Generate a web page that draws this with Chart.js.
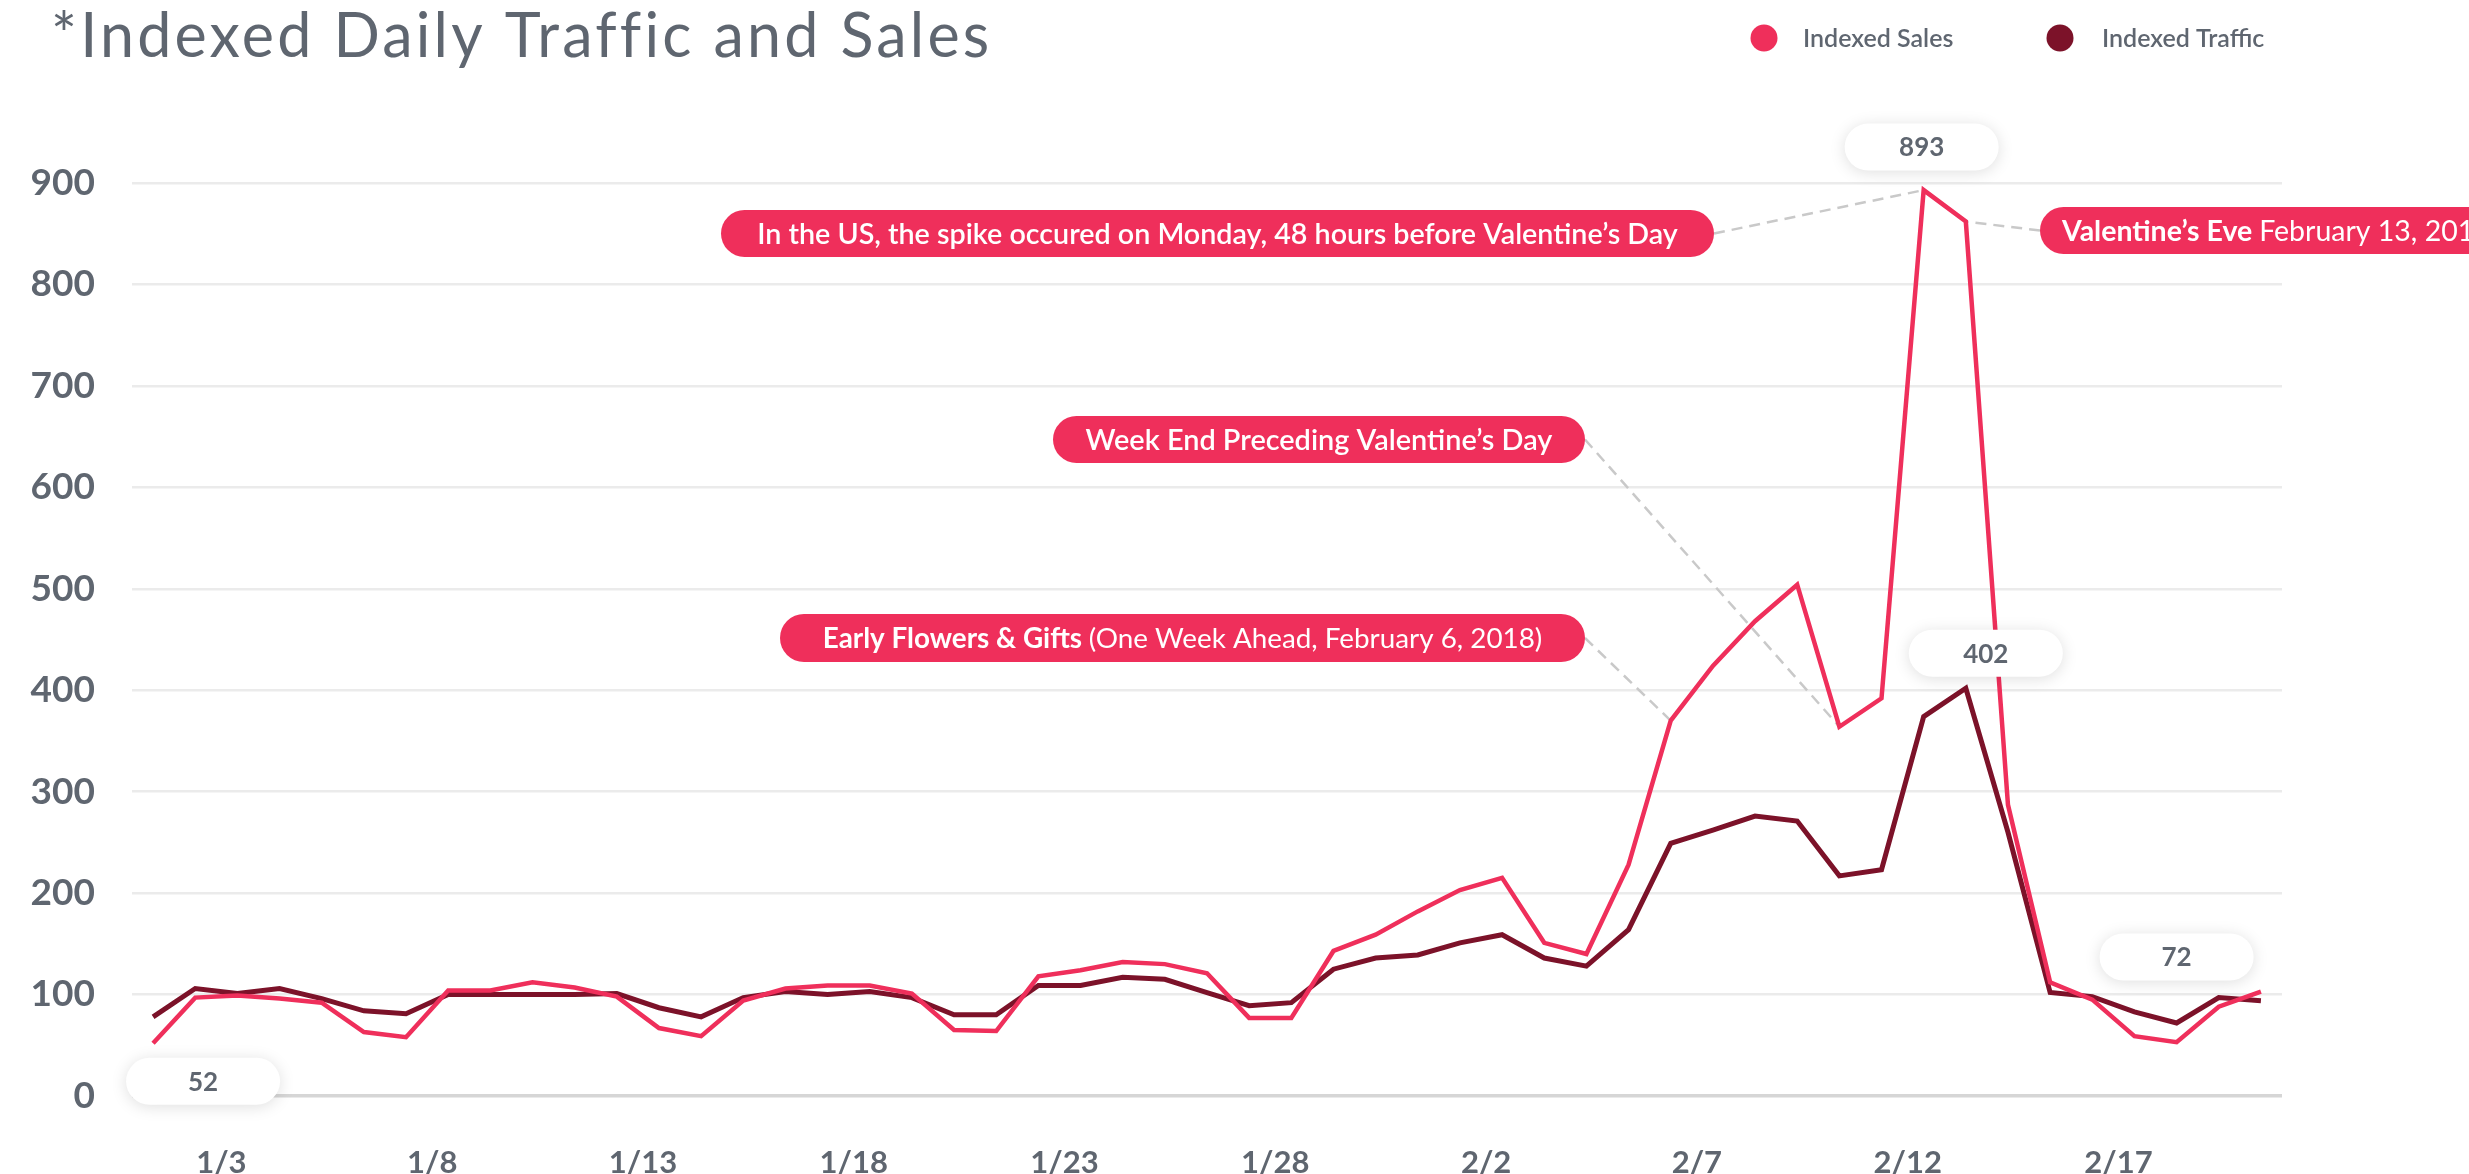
<!DOCTYPE html>
<html>
<head>
<meta charset="utf-8">
<script src="https://cdn.jsdelivr.net/npm/chart.js@4.4.1/dist/chart.umd.min.js"></script>
<style>
  html, body { margin: 0; padding: 0; background: #fff; }
  #wrap { width: 2469px; height: 1174px; }
</style>
</head>
<body>
<div id="wrap"><canvas id="trafficChart" width="2469" height="1174"></canvas></div>
<script>
// daily dates, 1 Jan - 20 Feb 2018
const dates = [
  '1/1','1/2','1/3','1/4','1/5','1/6','1/7','1/8','1/9','1/10',
  '1/11','1/12','1/13','1/14','1/15','1/16','1/17','1/18','1/19','1/20',
  '1/21','1/22','1/23','1/24','1/25','1/26','1/27','1/28','1/29','1/30',
  '1/31','2/1','2/2','2/3','2/4','2/5','2/6','2/7','2/8','2/9',
  '2/10','2/11','2/12','2/13','2/14','2/15','2/16','2/17','2/18','2/19','2/20'
];
const tickLabels = ['1/3','1/8','1/13','1/18','1/23','1/28','2/2','2/7','2/12','2/17'];

const indexedSales = [
  52, 97, 99, 96, 92, 63, 58, 104, 104, 112,
  107, 98, 67, 59, 94, 106, 109, 109, 101, 65,
  64, 118, 124, 132, 130, 121, 77, 77, 143, 159,
  182, 203, 215, 151, 140, 228, 370, 424, 468, 504,
  364, 392, 893, 862, 287, 112, 95, 59, 53, 88, 103
];
const indexedTraffic = [
  78, 106, 101, 106, 96, 84, 81, 100, 100, 100,
  100, 101, 87, 78, 97, 103, 100, 103, 97, 80,
  80, 109, 109, 117, 115, 102, 89, 92, 125, 136,
  139, 151, 159, 136, 128, 164, 249, 262, 276, 271,
  217, 223, 374, 402, 260, 102, 98, 83, 72, 97, 94
];

const TEXT_GREY = '#5f6670';
const SALES_RED = '#ef2f5b';
const TRAFFIC_RED = '#7c1229';
const FONT = 'Lato, "Noto Sans", sans-serif';

// callouts: pill box + which point the dashed line goes to
const callouts = [
  { box: [721, 210, 993, 47], side: 'right', ds: 0, i: 42, textW: 921,
    parts: [['In the US, the spike occured on Monday, 48 hours before Valentine\u2019s Day', 600]] },
  { box: [2040, 207, 520, 47], side: 'left', ds: 0, i: 43, textX: 2062, size: 28.5,
    parts: [['Valentine\u2019s Eve ', 700], ['February 13, 2018', 400]] },
  { box: [1053, 416, 532, 47], side: 'right', ds: 0, i: 40, textW: 467,
    parts: [['Week End Preceding Valentine\u2019s Day', 600]] },
  { box: [780, 614, 805, 48], side: 'right', ds: 0, i: 36, textW: 720,
    parts: [['Early Flowers & Gifts ', 700], ['(One Week Ahead, February 6, 2018)', 400]] }
];
// white value bubbles, offset from their point
const bubbles = [
  { ds: 0, i: 42, dx: -2, dy: -43 },
  { ds: 1, i: 43, dx: 20, dy: -35 },
  { ds: 1, i: 48, dx: 0, dy: -66 },
  { ds: 0, i: 0, dx: 50, dy: 38 }
];

function pillPath(ctx, x, y, w, h) {
  const r = h / 2;
  ctx.beginPath();
  ctx.moveTo(x + r, y);
  ctx.lineTo(x + w - r, y);
  ctx.arc(x + w - r, y + r, r, -Math.PI / 2, Math.PI / 2);
  ctx.lineTo(x + r, y + h);
  ctx.arc(x + r, y + r, r, Math.PI / 2, Math.PI * 1.5);
  ctx.closePath();
}

function partsWidth(ctx, parts, size) {
  let w = 0;
  parts.forEach(p => {
    ctx.font = p[1] + ' ' + size + 'px ' + FONT;
    w += ctx.measureText(p[0]).width;
  });
  return w;
}

function drawParts(ctx, parts, x, y, size) {
  parts.forEach(p => {
    ctx.font = p[1] + ' ' + size + 'px ' + FONT;
    ctx.fillText(p[0], x, y);
    x += ctx.measureText(p[0]).width;
  });
}

function pointOf(chart, ds, i) {
  const pt = chart.getDatasetMeta(ds).data[i];
  return { x: pt.x, y: pt.y };
}

const decorPlugin = {
  id: 'decor',
  beforeDatasetsDraw(chart) {
    const ctx = chart.ctx;
    ctx.save();
    ctx.strokeStyle = '#c9c9c9';
    ctx.lineWidth = 2.5;
    ctx.setLineDash([11, 7]);
    callouts.forEach(c => {
      const [x, y, w, h] = c.box;
      const p = pointOf(chart, c.ds, c.i);
      const sx = c.side === 'right' ? x + w : x;
      ctx.beginPath();
      ctx.moveTo(sx, y + h / 2);
      ctx.lineTo(p.x, p.y);
      ctx.stroke();
    });
    ctx.restore();
  },
  afterDatasetsDraw(chart) {
    const ctx = chart.ctx;
    ctx.save();

    // callout pills
    callouts.forEach(c => {
      const [x, y, w, h] = c.box;
      ctx.fillStyle = SALES_RED;
      pillPath(ctx, x, y, w, h);
      ctx.fill();
      ctx.fillStyle = '#ffffff';
      ctx.textBaseline = 'middle';
      ctx.textAlign = 'left';
      let size = c.size;
      if (!size) size = 27 * c.textW / partsWidth(ctx, c.parts, 27);
      const tw = partsWidth(ctx, c.parts, size);
      const tx = c.textX !== undefined ? c.textX : x + (w - tw) / 2;
      drawParts(ctx, c.parts, tx, y + h / 2 + 1, size);
    });

    // value bubbles
    bubbles.forEach(b => {
      const p = pointOf(chart, b.ds, b.i);
      const value = chart.data.datasets[b.ds].data[b.i];
      const bw = 154, bh = 47;
      const cx = p.x + b.dx, cy = p.y + b.dy;
      ctx.save();
      ctx.shadowColor = 'rgba(0,0,0,0.13)';
      ctx.shadowBlur = 16;
      ctx.shadowOffsetY = 2;
      ctx.fillStyle = '#ffffff';
      pillPath(ctx, cx - bw / 2, cy - bh / 2, bw, bh);
      ctx.fill();
      ctx.restore();
      ctx.fillStyle = TEXT_GREY;
      ctx.font = '700 26px ' + FONT;
      ctx.textAlign = 'center';
      ctx.textBaseline = 'middle';
      ctx.fillText(String(value), cx, cy + 1);
    });

    // title, spaced out to the original width
    const title = '*Indexed Daily Traffic and Sales';
    ctx.fillStyle = TEXT_GREY;
    ctx.textAlign = 'left';
    ctx.textBaseline = 'alphabetic';
    ctx.font = '400 61px ' + FONT;
    const tw = ctx.measureText(title).width;
    const spacing = Math.max(0, (935 - tw) / (title.length - 1));
    ctx.letterSpacing = spacing.toFixed(2) + 'px';
    ctx.fillText(title, 51, 57);
    ctx.letterSpacing = '0px';

    // legend
    const legend = [
      { label: chart.data.datasets[0].label, color: SALES_RED, dotX: 1764, textX: 1803 },
      { label: chart.data.datasets[1].label, color: TRAFFIC_RED, dotX: 2060, textX: 2102 }
    ];
    legend.forEach(l => {
      ctx.fillStyle = l.color;
      ctx.beginPath();
      ctx.arc(l.dotX, 38, 13.5, 0, Math.PI * 2);
      ctx.fill();
      ctx.fillStyle = TEXT_GREY;
      ctx.font = '600 25px ' + FONT;
      ctx.textBaseline = 'alphabetic';
      ctx.fillText(l.label, l.textX, 47);
    });

    ctx.restore();
  }
};

const ctx = document.getElementById('trafficChart').getContext('2d');
const trafficChart = new Chart(ctx, {
  type: 'line',
  data: {
    labels: dates,
    datasets: [
      {
        label: 'Indexed Sales',
        data: indexedSales,
        borderColor: SALES_RED,
        borderWidth: 4.5,
        pointRadius: 0,
        tension: 0,
        fill: false
      },
      {
        label: 'Indexed Traffic',
        data: indexedTraffic,
        borderColor: TRAFFIC_RED,
        borderWidth: 5,
        pointRadius: 0,
        tension: 0,
        fill: false
      }
    ]
  },
  options: {
    responsive: false,
    animation: false,
    layout: { padding: { top: 183, right: 187, left: 0, bottom: 0 } },
    plugins: {
      legend: { display: false },
      title: { display: false },
      tooltip: { enabled: false }
    },
    scales: {
      x: {
        type: 'category',
        offset: true,
        grid: { display: false },
        border: { display: false },
        ticks: {
          autoSkip: false,
          maxRotation: 0,
          padding: 40,
          labelOffset: -16,
          color: TEXT_GREY,
          font: { family: FONT, size: 31, weight: 700 },
          callback: function(value) {
            const l = this.getLabelForValue(value);
            return tickLabels.includes(l) ? l : null;
          }
        },
        afterFit: function(scale) { scale.height = 78; }
      },
      y: {
        min: 0,
        max: 900,
        border: { display: false },
        grid: {
          drawTicks: false,
          color: c => c.tick.value === 0 ? '#d6d6d6' : '#ebebeb',
          lineWidth: c => c.tick.value === 0 ? 3.5 : 2.5
        },
        ticks: {
          stepSize: 100,
          padding: 37,
          color: TEXT_GREY,
          font: { family: FONT, size: 37, weight: 700 }
        },
        afterFit: function(scale) { scale.width = 132; }
      }
    }
  },
  plugins: [decorPlugin]
});
</script>
</body>
</html>
